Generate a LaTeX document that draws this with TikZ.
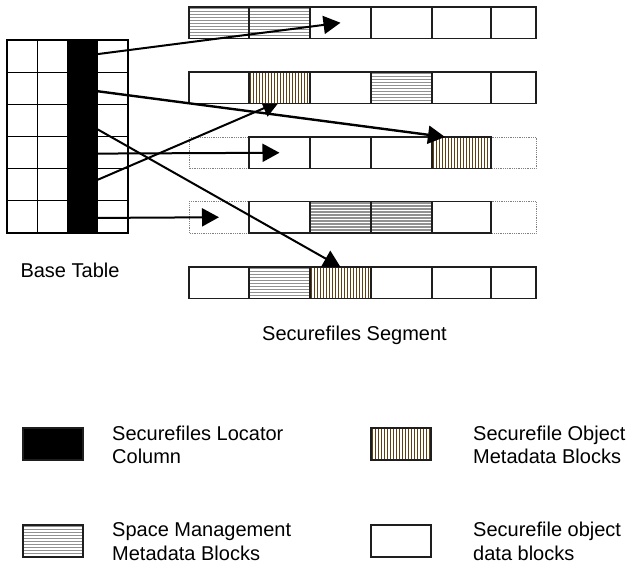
\documentclass[tikz,border=0pt]{standalone}
\usepackage{fontspec}
\setmainfont{Liberation Sans}
\usetikzlibrary{arrows.meta,calc,backgrounds}

\definecolor{stripegray}{RGB}{145,145,145}
\definecolor{stripebrown}{RGB}{96,64,16}
\definecolor{edge}{RGB}{30,30,30}

\tikzset{
  every node/.style={font=\fontsize{20}{23.5}\selectfont},
  blk/.style={draw=edge, line width=1.1pt, fill=white, minimum width=#1,
    minimum height=31.5pt, inner sep=0pt, outer sep=0pt, anchor=north west},
  plain/.style={},
  ghost/.style={draw=none, fill=none},
  hgrey/.style={path picture={\foreach \k in {1.5,4.5,...,34.5}
      \draw[stripegray, line width=1.6pt]
        ($(path picture bounding box.north west)+(0,\k)$) -- ++(80,0);}},
  vbrown/.style={path picture={\foreach \k in {1.5,4.5,...,64.5}
      \draw[stripebrown, line width=1.7pt]
        ($(path picture bounding box.north west)+(\k,0)$) -- ++(0,40);}},
  tcell/.style={draw=black, line width=1.3pt, minimum width=30.25pt,
    minimum height=32.17pt, inner sep=0pt, outer sep=0pt, anchor=north west},
  ptr/.style={line width=2pt, -{Triangle[length=17pt,width=18pt]}},
  ghostrow/.style={draw=gray, densely dotted, line width=0.8pt},
  caption/.style={inner sep=0pt, anchor=base},
  legendtext/.style={inner sep=0pt, anchor=base west, align=left},
}

\begin{document}
\begin{tikzpicture}[x=1pt, y=-1pt]
  \begin{scope}[on background layer]
    \fill[white] (0,0) rectangle (627,567);
  \end{scope}
  \useasboundingbox (0,0) rectangle (627,567);

  % base table: four columns, the third one holds the locators
  \foreach \r in {1,...,6} {
    \node[tcell] (ta\r) at (7,{40+(\r-1)*32.17}) {};
    \node[tcell] (tb\r) at (37.25,{40+(\r-1)*32.17}) {};
    \node[tcell, fill=black] (loc\r) at (67.5,{40+(\r-1)*32.17}) {};
    \node[tcell] (td\r) at (97.75,{40+(\r-1)*32.17}) {};
  }
  \node[caption] (basecap) at (70,277) {Base Table};

  % securefiles segment, five rows of six blocks
  \foreach \c/\xa/\w/\st in {1/189/60/hgrey, 2/249/61/hgrey, 3/310/61/plain,
                             4/371/61/plain, 5/432/59/plain, 6/491/45/plain}
    \node[blk=\w pt, \st] (r1c\c) at (\xa,7) {};
  \foreach \c/\xa/\w/\st in {1/189/60/plain, 2/249/61/vbrown, 3/310/61/plain,
                             4/371/61/hgrey, 5/432/59/plain, 6/491/45/plain}
    \node[blk=\w pt, \st] (r2c\c) at (\xa,72) {};
  \foreach \c/\xa/\w/\st in {1/189/60/ghost, 2/249/61/plain, 3/310/61/plain,
                             4/371/61/plain, 5/432/59/vbrown, 6/491/45/ghost}
    \node[blk=\w pt, \st] (r3c\c) at (\xa,137) {};
  \foreach \c/\xa/\w/\st in {1/189/60/ghost, 2/249/61/plain, 3/310/61/hgrey,
                             4/371/61/hgrey, 5/432/59/plain, 6/491/45/ghost}
    \node[blk=\w pt, \st] (r4c\c) at (\xa,201.5) {};
  \foreach \c/\xa/\w/\st in {1/189/60/plain, 2/249/61/hgrey, 3/310/61/vbrown,
                             4/371/61/plain, 5/432/59/plain, 6/491/45/plain}
    \node[blk=\w pt, \st] (r5c\c) at (\xa,267) {};
  \node[caption] (segcap) at (354.5,340) {Securefiles Segment};

  % free space around rows three and four, and the pointer hidden under row two
  \begin{scope}[on background layer]
    \draw[ghostrow] (r3c1.north west) rectangle (r3c6.south east);
    \draw[ghostrow] (r4c1.north west) rectangle (r4c6.south east);
    \draw[ptr] ($(loc5.east)+(0,-5)$) -- ($(r2c2.south)+(0,-2)$);
  \end{scope}

  % locator pointers
  \draw[ptr] ($(loc1.east)+(0,-2)$) -- (r1c3.center);
  \draw[ptr, line width=2.4pt] ($(loc2.east)+(0,3)$) -- ($(r3c5.north west)+(13,0)$);
  \draw[ptr] ($(loc3.east)+(0,9)$) -- (r5c3.north);
  \draw[ptr] ($(loc4.east)+(0,1)$) -- (r3c2.center);
  \draw[ptr] ($(loc6.east)+(0,1)$) -- (r4c1.center);

  % legend
  \node[blk=60pt, fill=black, minimum height=32pt] (lgloc) at (23,428) {};
  \node[blk=60pt, hgrey, minimum height=32pt] (lgspace) at (23,525) {};
  \node[blk=60pt, vbrown, minimum height=32pt] (lgobj) at (371,428) {};
  \node[blk=60pt, minimum height=32pt] (lgdata) at (371,525) {};
  \node[legendtext] (txloc) at (112,463.5) {Securefiles Locator\\Column};
  \node[legendtext] (txspace) at (112,560) {Space Management\\Metadata Blocks};
  \node[legendtext] (txobj) at (473,463.5) {Securefile Object\\Metadata Blocks};
  \node[legendtext] (txdata) at (473,560) {Securefile object\\data blocks};
\end{tikzpicture}
\end{document}
